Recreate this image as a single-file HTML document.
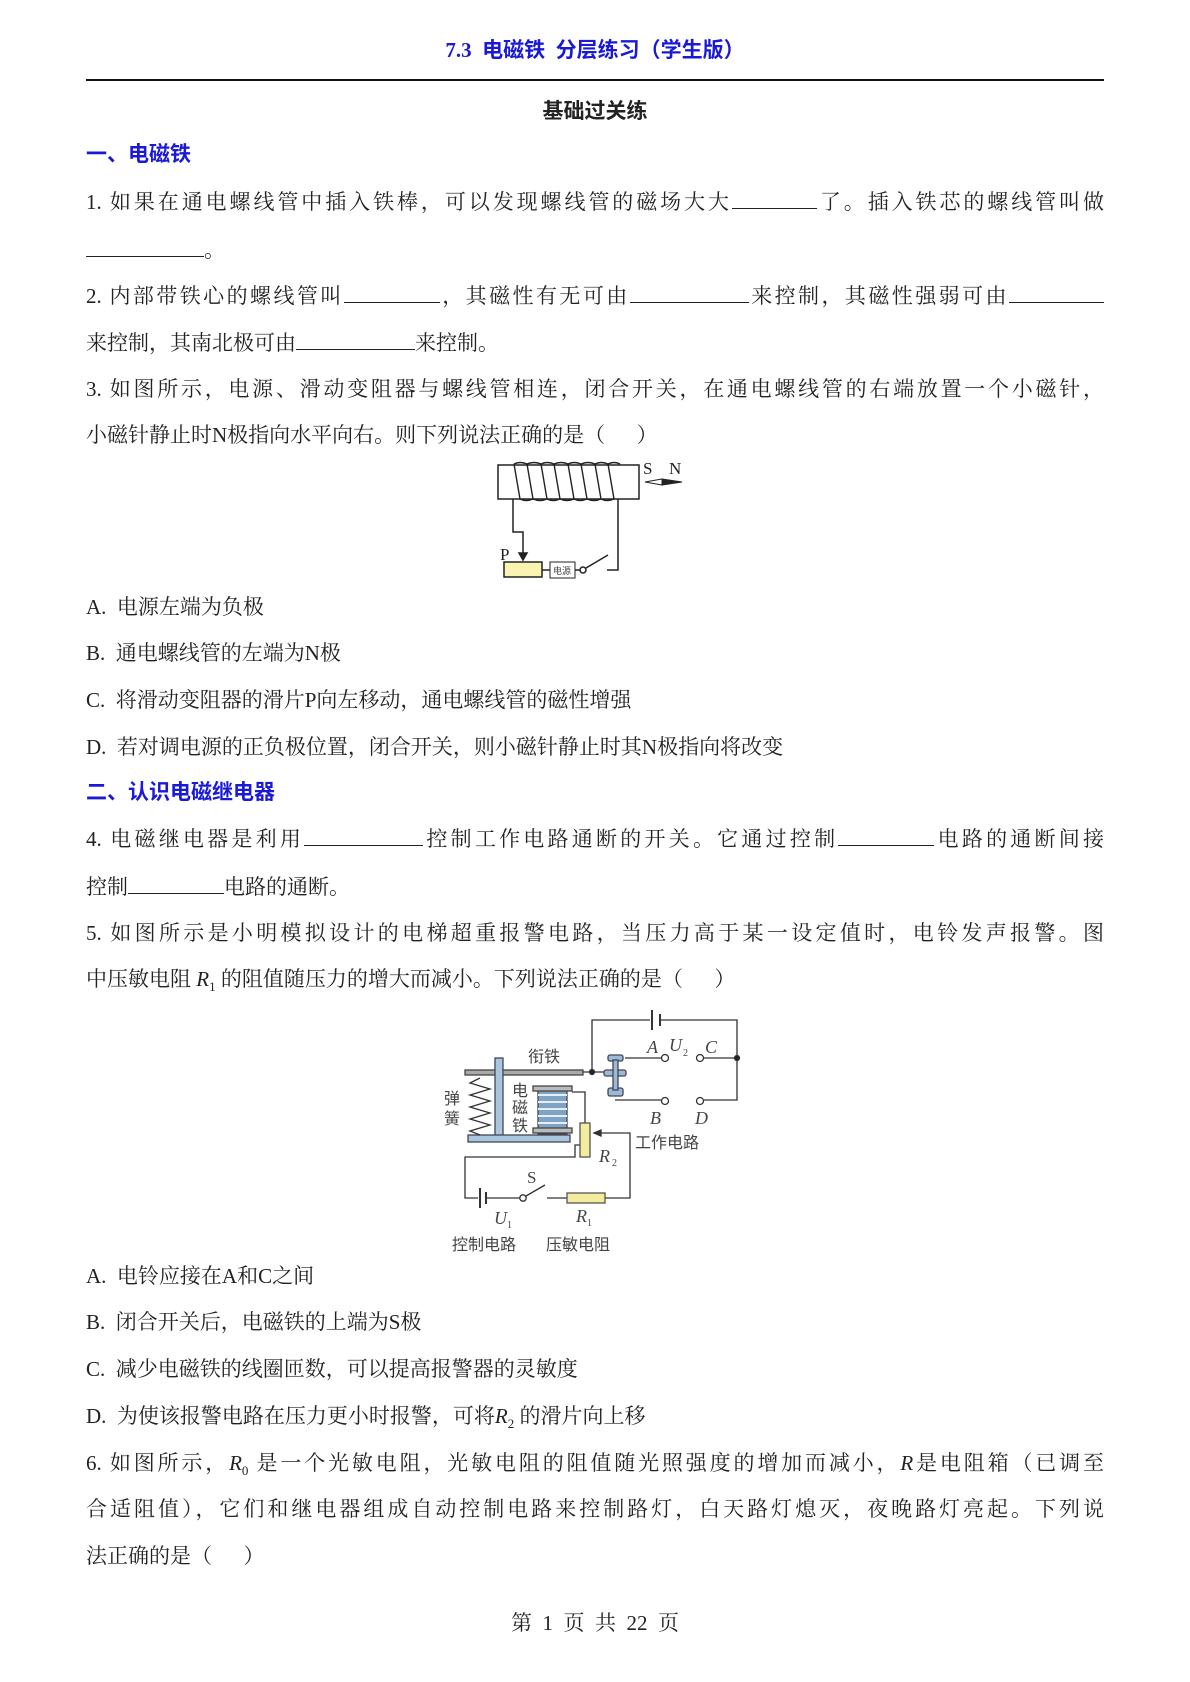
<!DOCTYPE html>
<html><head><meta charset="utf-8"><style>
body{margin:0;background:#fff;}
#p{position:relative;width:1190px;height:1682px;overflow:hidden;font-family:"Liberation Serif","Noto Serif CJK SC",serif;font-size:21px;color:#222;}
.l{position:absolute;left:86px;width:1018px;white-space:nowrap;line-height:28px;}
.j{text-align:justify;text-align-last:justify;white-space:normal;}
.b{display:inline-block;border-bottom:1px solid #222;height:20px;vertical-align:baseline;}
.h{position:absolute;left:86px;font-family:"Liberation Sans","Noto Sans CJK SC",sans-serif;font-weight:bold;color:#1a1ad6;font-size:21px;line-height:28px;}
</style></head><body><div id="p">
<div style="position:absolute;left:0;width:1190px;top:34px;text-align:center;font-family:'Liberation Serif','Noto Sans CJK SC',sans-serif;font-weight:bold;color:#1a1ad6;font-size:21px;">7.3&nbsp; 电磁铁&nbsp; 分层练习（学生版）</div>
<div style="position:absolute;left:86px;top:79px;width:1018px;height:2px;background:#111"></div>
<div style="position:absolute;left:0;width:1190px;top:95px;text-align:center;font-family:'Liberation Sans','Noto Sans CJK SC',sans-serif;font-weight:bold;font-size:21px;">基础过关练</div>
<div class="h" style="top:141px">一、电磁铁</div>
<div class="l j" style="top:188px">1. 如果在通电螺线管中插入铁棒，可以发现螺线管的磁场大大<span class="b" style="width:85px"></span>了。插入铁芯的螺线管叫做</div>
<div class="l" style="top:236px"><span class="b" style="width:118px"></span>。</div>
<div class="l j" style="top:282px">2. 内部带铁心的螺线管叫<span class="b" style="width:96px"></span>，其磁性有无可由<span class="b" style="width:119px"></span>来控制，其磁性强弱可由<span class="b" style="width:95px"></span></div>
<div class="l" style="top:329px">来控制，其南北极可由<span class="b" style="width:119px"></span>来控制。</div>
<div class="l j" style="top:375px">3. 如图所示，电源、滑动变阻器与螺线管相连，闭合开关，在通电螺线管的右端放置一个小磁针，</div>
<div class="l" style="top:421px">小磁针静止时N极指向水平向右。则下列说法正确的是（&nbsp;&nbsp;&nbsp;&nbsp;&nbsp;&nbsp;）</div>
<svg style="position:absolute;left:440px;top:440px" width="300" height="160" viewBox="0 0 300 160" fill="none" stroke="#222" stroke-width="1.5">
<rect x="58" y="25" width="141" height="34"/>
<g stroke-width="1.4">
<path d="M80 59 L74 24 M93 59 L87 24 M107 59 L101 24 M120 59 L114 24 M134 59 L128 24 M147 59 L141 24 M161 59 L155 24 M174 59 L168 24"/>
<path d="M74 24 q6 -3 13 0 M87 24 q7 -3 14 0 M101 24 q6 -3 13 0 M114 24 q7 -3 14 0 M128 24 q6 -3 13 0 M141 24 q7 -3 14 0 M155 24 q6 -3 13 0 M168 24 q6 -3 12 0"/>
<path d="M80 59 q6 3 13 0 M93 59 q7 3 14 0 M107 59 q6 3 13 0 M120 59 q7 3 14 0 M134 59 q6 3 13 0 M147 59 q7 3 14 0 M161 59 q6 3 13 0"/>
</g>
<path d="M73 59 V92 H83 V115"/><path d="M79 113 L83 120 L87 113 Z" fill="#222"/>
<rect x="64" y="122" width="38" height="15" fill="#fbf3b0"/>
<path d="M102 130 H110"/><rect x="110" y="122" width="25" height="16" stroke-width="1"/>
<text x="113" y="134" font-size="9" fill="#444" stroke="none" font-family="Noto Sans CJK SC">电源</text>
<path d="M135 130 H140"/><circle cx="143" cy="130" r="3"/><path d="M146 128 L168 115 M167 130 H178 V59"/>
<text x="60" y="120" font-size="17" fill="#222" stroke="none" font-family="Liberation Serif">P</text>
<text x="203" y="34" font-size="17" fill="#222" stroke="none" font-family="Liberation Serif">S</text>
<text x="229" y="34" font-size="17" fill="#222" stroke="none" font-family="Liberation Serif">N</text>
<path d="M205 42 L222 39 L222 45 Z" stroke-width="1" fill="#fff"/><path d="M222 39 L242 42 L222 45 Z" fill="#222" stroke-width="1"/>
</svg>
<div class="l" style="top:593px">A.&nbsp; 电源左端为负极</div>
<div class="l" style="top:639px">B.&nbsp; 通电螺线管的左端为N极</div>
<div class="l" style="top:686px">C.&nbsp; 将滑动变阻器的滑片P向左移动，通电螺线管的磁性增强</div>
<div class="l" style="top:733px">D.&nbsp; 若对调电源的正负极位置，闭合开关，则小磁针静止时其N极指向将改变</div>
<div class="h" style="top:779px">二、认识电磁继电器</div>
<div class="l j" style="top:825px">4. 电磁继电器是利用<span class="b" style="width:119px"></span>控制工作电路通断的开关。它通过控制<span class="b" style="width:96px"></span>电路的通断间接</div>
<div class="l" style="top:873px">控制<span class="b" style="width:96px"></span>电路的通断。</div>
<div class="l j" style="top:919px">5. 如图所示是小明模拟设计的电梯超重报警电路，当压力高于某一设定值时，电铃发声报警。图</div>
<div class="l" style="top:965px">中压敏电阻 <i>R</i><sub style="font-size:13px">1</sub> 的阻值随压力的增大而减小。下列说法正确的是（&nbsp;&nbsp;&nbsp;&nbsp;&nbsp;&nbsp;）</div>
<svg style="position:absolute;left:430px;top:1000px" width="340" height="260" viewBox="0 0 340 260" fill="none" stroke="#333" stroke-width="1.3" font-family="Noto Sans CJK SC">
<path d="M162 72 V20 H220 M230 20 H307 V100 H274 M307 58 H274 M195 58 H231 M185 100 H231 M153 72 H178"/>
<path d="M222 10 V30 M230 14 V26" stroke-width="2"/>
<circle cx="235" cy="58" r="3.5" fill="#fff"/><circle cx="270" cy="58" r="3.5" fill="#fff"/>
<circle cx="235" cy="101" r="3.5" fill="#fff"/><circle cx="270" cy="101" r="3.5" fill="#fff"/>
<circle cx="162" cy="72" r="2.5" fill="#222"/><circle cx="307" cy="58" r="2.5" fill="#222"/>
<g fill="#9bbad6" stroke="#445"><rect x="178" y="55" width="15" height="6" rx="2"/><rect x="174" y="70" width="22" height="6" rx="2"/><rect x="178" y="88" width="15" height="8" rx="2"/><rect x="183" y="60" width="5" height="30"/></g>
<rect x="35" y="70" width="118" height="5" fill="#aaa" stroke="#444"/>
<rect x="65" y="58" width="8" height="80" fill="#a9c6de" stroke="#445"/>
<rect x="38" y="135" width="102" height="7" fill="#a9c6de" stroke="#445"/>
<path d="M50 78 L40 83 L60 89 L40 95 L60 101 L40 107 L60 113 L40 119 L60 125 L40 131 L50 135"/>
<rect x="108" y="88" width="29" height="46" fill="#7fa3c4" stroke="#445"/>
<path d="M108 95 H137 M108 102 H137 M108 109 H137 M108 116 H137 M108 123 H137" stroke="#e8eef5" stroke-width="2"/>
<rect x="103" y="86" width="39" height="5" fill="#bbb" stroke="#444"/><rect x="103" y="128" width="39" height="5" fill="#bbb" stroke="#444"/>
<path d="M142 92 H155 V123 M150 145 H145 V157 H35 V198 H48 M56 198 H90 M137 198 H117 M175 198 H200 V133 H165"/>
<path d="M164 133 L171 130 L171 136 Z" fill="#333"/>
<path d="M50 188 V208 M56 192 V204" stroke-width="2"/>
<circle cx="93" cy="198" r="3.2" fill="#fff"/><path d="M96 196 L115 185"/>
<rect x="150" y="123" width="10" height="34" fill="#f3ec9c" stroke="#555"/>
<rect x="137" y="193" width="38" height="10" fill="#f3ec9c" stroke="#555"/>
<g fill="#444" stroke="none" font-size="16">
<text x="98" y="62">衔铁</text>
<text x="14" y="104">弹</text><text x="14" y="124">簧</text>
<text x="82" y="96">电</text><text x="82" y="113">磁</text><text x="82" y="131">铁</text>
<text x="205" y="148">工作电路</text>
<text x="22" y="250">控制电路</text><text x="116" y="250">压敏电阻</text>
<g font-family="Liberation Serif" font-style="italic" font-size="18"><text x="217" y="53">A</text><text x="239" y="51">U</text><text x="275" y="53">C</text><text x="220" y="124">B</text><text x="265" y="124">D</text><text x="169" y="162">R</text><text x="64" y="224">U</text><text x="146" y="222">R</text></g>
<g font-family="Liberation Serif" font-size="10"><text x="253" y="56">2</text><text x="182" y="166">2</text><text x="77" y="228">1</text><text x="157" y="226">1</text></g>
<text x="97" y="183" font-family="Liberation Serif" font-size="17">S</text>
</g>
</svg>
<div class="l" style="top:1262px">A.&nbsp; 电铃应接在A和C之间</div>
<div class="l" style="top:1308px">B.&nbsp; 闭合开关后，电磁铁的上端为S极</div>
<div class="l" style="top:1355px">C.&nbsp; 减少电磁铁的线圈匝数，可以提高报警器的灵敏度</div>
<div class="l" style="top:1402px">D.&nbsp; 为使该报警电路在压力更小时报警，可将<i>R</i><sub style="font-size:13px">2</sub> 的滑片向上移</div>
<div class="l j" style="top:1449px">6. 如图所示，<i>R</i><sub style="font-size:13px">0</sub> 是一个光敏电阻，光敏电阻的阻值随光照强度的增加而减小，<i>R</i>是电阻箱（已调至</div>
<div class="l j" style="top:1495px">合适阻值），它们和继电器组成自动控制电路来控制路灯，白天路灯熄灭，夜晚路灯亮起。下列说</div>
<div class="l" style="top:1542px">法正确的是（&nbsp;&nbsp;&nbsp;&nbsp;&nbsp;&nbsp;）</div>
<div style="position:absolute;left:0;width:1190px;top:1607px;text-align:center;font-size:21px;">第&nbsp; 1&nbsp; 页&nbsp; 共&nbsp; 22&nbsp; 页</div>
</div></body></html>
